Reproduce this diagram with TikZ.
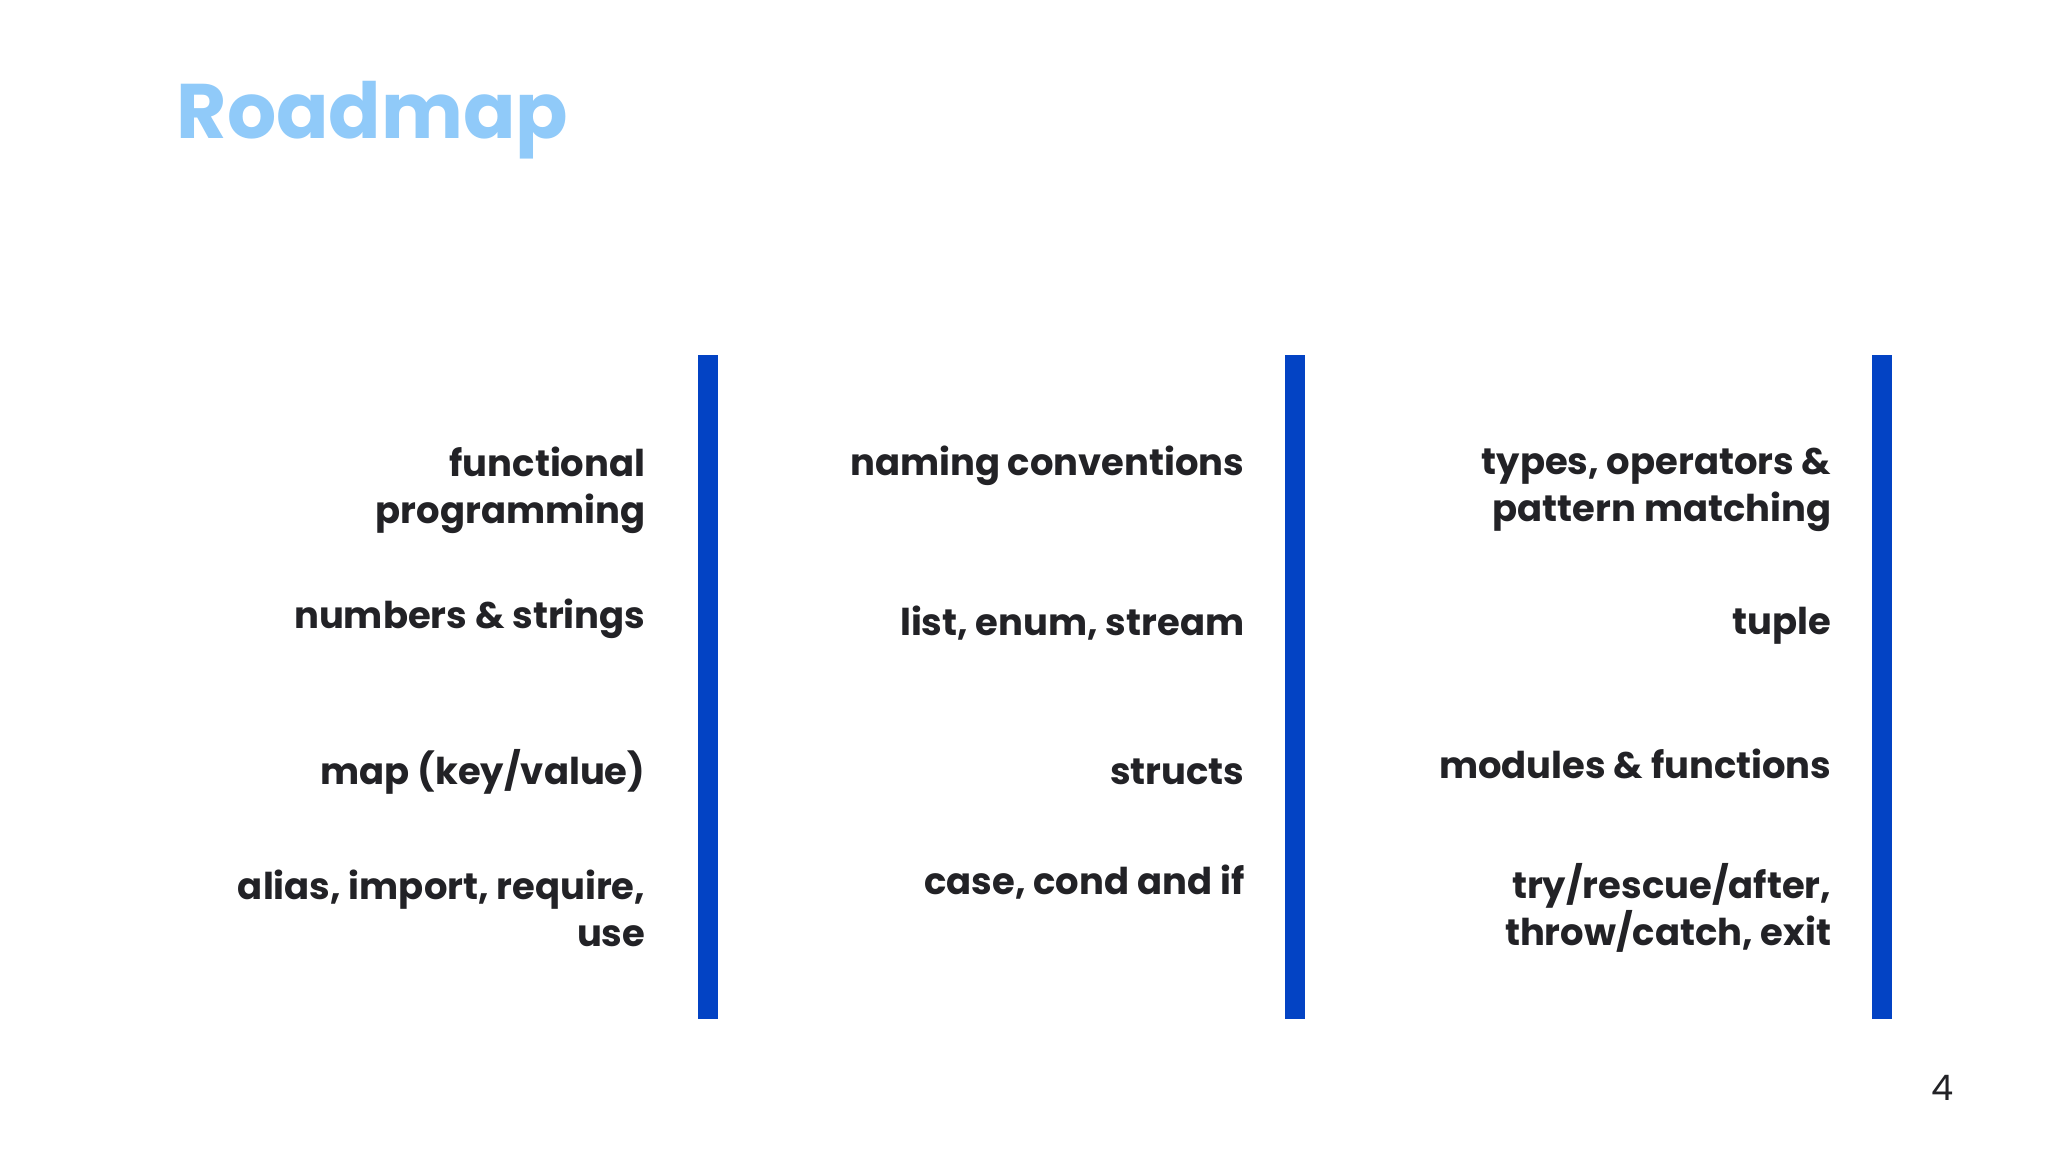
\documentclass[tikz,border=0pt]{standalone}
\usepackage{fontspec}
\setmainfont{Poppins}
\definecolor{titleblue}{HTML}{90CAF9}
\definecolor{barblue}{HTML}{0343C4}
\definecolor{ink}{HTML}{222226}
\begin{document}
\begin{tikzpicture}[x=0.01cm,y=-0.01cm,
  item/.style={anchor=east,align=right,text=ink,font=\fontsize{10.5}{13.3}\selectfont\bfseries,inner sep=0pt},
  bar/.style={fill=barblue,draw=none}]
\useasboundingbox[fill=white] (0,0) rectangle (2048,1152);
\node[anchor=west,inner sep=0pt,text=titleblue,font=\fontsize{22}{26}\selectfont\bfseries] (title) at (176,120) {Roadmap};
\fill[bar] (698,355) rectangle (718,1019);
\fill[bar] (1285,355) rectangle (1305,1019);
\fill[bar] (1872,355) rectangle (1892,1019);
\node[item] (a1) at (646,490) {functional\\programming};
\node[item] (a2) at (646,619) {numbers \& strings};
\node[item] (a3) at (646,772) {map (key/value)};
\node[item] (a4) at (646,908) {alias, import, require,\\use};
\node[item] (b1) at (1245,466) {naming conventions};
\node[item] (b2) at (1245,623) {list, enum, stream};
\node[item] (b3) at (1245,772) {structs};
\node[item] (b4) at (1245,882) {case, cond and if};
\node[item] (c1) at (1832,490) {types, operators \&\\pattern matching};
\node[item] (c2) at (1832,626) {tuple};
\node[item] (c3) at (1832,764) {modules \& functions};
\node[item] (c4) at (1832,908) {try/rescue/after,\\throw/catch, exit};
\node[text=ink,font=\fontsize{10}{12}\selectfont,inner sep=0pt] (pg) at (1943,1088) {4};
\end{tikzpicture}
\end{document}
